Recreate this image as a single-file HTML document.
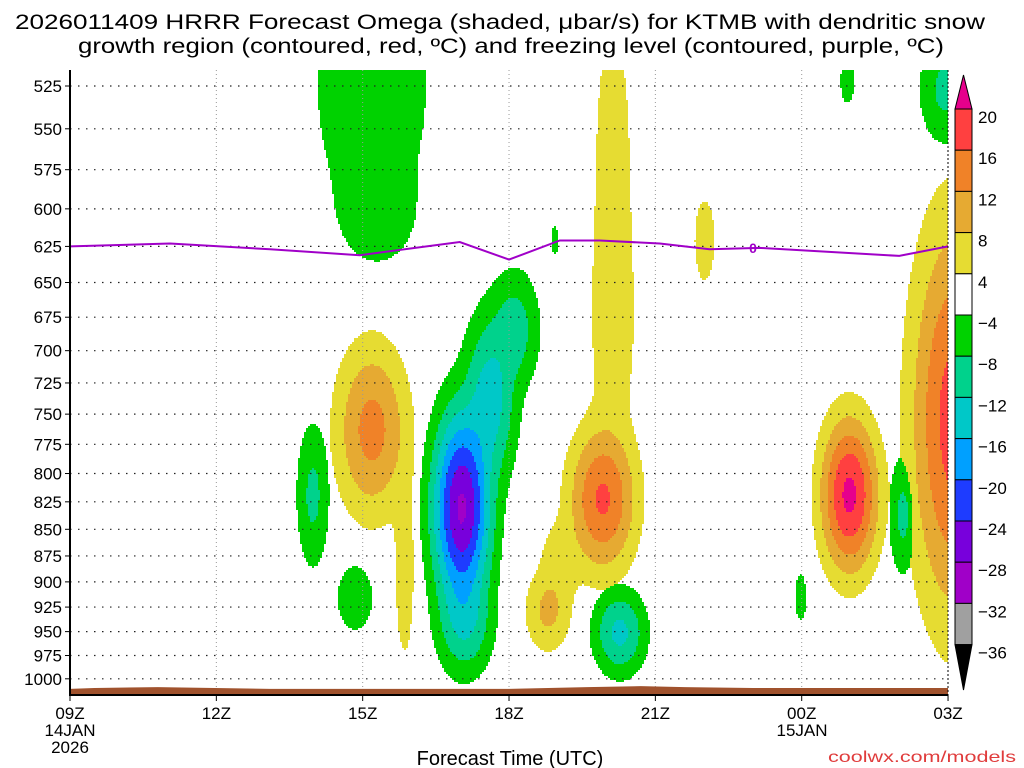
<!DOCTYPE html>
<html><head><meta charset="utf-8"><style>
html,body{margin:0;padding:0;background:#fff;}
svg{display:block;font-family:"Liberation Sans",sans-serif;}
</style></head><body>
<svg id="chart" width="1024" height="768" viewBox="0 0 1024 768" xmlns="http://www.w3.org/2000/svg">
<rect width="1024" height="768" fill="#fff"/>
<text x="500" y="29" text-anchor="middle" font-size="21" textLength="970" lengthAdjust="spacingAndGlyphs">2026011409 HRRR Forecast Omega (shaded, μbar/s) for KTMB with dendritic snow</text>
<text x="511" y="53" text-anchor="middle" font-size="21" textLength="866" lengthAdjust="spacingAndGlyphs">growth region (contoured, red, ºC) and freezing level (contoured, purple, ºC)</text>
<g id="field"></g>
<g id="grid"></g>
<g id="surface"></g>
<g id="frz"></g>
<g id="axes"></g>
<g id="cbar"></g>
<text x="510" y="765" text-anchor="middle" font-size="20">Forecast Time (UTC)</text>
<text x="1016" y="762" text-anchor="end" font-size="16" fill="#e03c3c" textLength="188" lengthAdjust="spacingAndGlyphs">coolwx.com/models</text>
</svg>
<script>
// ---- data ----
const pressureTicks = [525,550,575,600,625,650,675,700,725,750,775,800,825,850,875,900,925,950,975,1000];
const hourTicks = [0,3,6,9,12,15,18];
const hourLabels = ["09Z","12Z","15Z","18Z","21Z","00Z","03Z"];
const cbarLevels = [20,16,12,8,4,-4,-8,-12,-16,-20,-24,-28,-32,-36];
const cbarColors = ["#ff4040","#f08228","#e6aa32","#e6dc32","#ffffff","#00d200","#00d28c","#00c8c8","#00a0ff","#1e3cff","#7800dc","#a000c8","#a0a0a0"];
// omega features (hours since 09Z, pressure hPa, peak µbar/s, spread hours, spread ln-p)
const blobHour = [6.19,6.31,11.13,11.13,10.92,8.03,8.61,9.12,8.09,6.19,6.86,4.98,5.84,9.80,10.04,11.27,13.01,9.94,15.94,17.93,18.14,15.98,17.07,14.98];
const blobPres = [527,604,569,684,823,831,738,684,938,763,889,819,916,929,879,951,621,621,522,527,755,819,837,915];
const blobAmp  = [-6.5,-5.8,6,6,16.6,-28.6,-14,-10,-12,13.5,6,-9,-6.5,9,6,-13,5.5,-5,-5.5,-9,18,21,-9,-5.5];
const blobSh   = [1.58,0.93,0.51,0.61,0.72,0.61,0.57,0.55,0.61,0.78,0.28,0.37,0.51,0.51,0.51,0.57,0.35,0.14,0.25,0.57,0.92,0.61,0.31,0.2];
const blobSl   = [0.188,0.065,0.217,0.163,0.082,0.109,0.098,0.07,0.065,0.098,0.136,0.087,0.049,0.049,0.054,0.049,0.076,0.033,0.043,0.065,0.217,0.087,0.071,0.043];
// freezing level (0C) pressure
const frzHour = [0,2.05,4.1,5.94,7.99,9.0,10.04,10.86,12.09,13.11,14.14,17.0,18];
const frzPres = [625,623,627,631,622,634,621,621,623,627,626,631.5,625];
// surface pressure
const sfcHour = [0,0.5,1.8,4.1,5.5,9.0,10.6,11.7,12.6,14.0,18];
const sfcPres = [1011,1010,1009,1011,1011,1011,1009,1008,1009,1010,1010];

// ---- axes ----
const X0=70,X1=948,Y0=70,Y1=695;
const xS=h=>X0+48.78*h;
const yS=p=>86+920*Math.log(p/525);
const hFromX=x=>(x-X0)/48.78;
const lpFromY=y=>Math.log(525)+(y-86)/920;
const NS="http://www.w3.org/2000/svg";
function mk(tag,attrs,parent){const e=document.createElementNS(NS,tag);for(const k in attrs)e.setAttribute(k,attrs[k]);parent.appendChild(e);return e;}

// ---- field ----
function val(h,lp){let pos=0,neg=0;for(let i=0;i<blobAmp.length;i++){const dh=(h-blobHour[i])/blobSh[i];const dl=(lp-Math.log(blobPres[i]))/blobSl[i];const v=blobAmp[i]*Math.exp(-(dh*dh+dl*dl));if(v>0)pos+=v*v;else neg+=v*v;}pos=Math.sqrt(pos);neg=Math.sqrt(neg);return pos>=neg?pos:-neg;}
function colorOf(v){
  if(v>=20)return "#e6008c";
  for(let i=0;i<cbarLevels.length-1;i++){if(v<cbarLevels[i]&&v>=cbarLevels[i+1])return i===4?null:cbarColors[i];}
  if(v<-36)return "#000";
  return null;
}
const field=document.getElementById('field');
const C=2;
for(let y=Y0;y<Y1;y+=C){
  const lp=lpFromY(y+C/2);let runStart=X0,runCol=undefined;
  for(let x=X0;x<=X1;x+=C){
    const col=x<X1?colorOf(val(hFromX(x+C/2),lp)):'END';
    if(col!==runCol){
      if(runCol){ if(runCol!=='END'){const r=mk('rect',{x:runStart,y:y,width:x-runStart,height:C,fill:runCol},field);
        
        }}
      runStart=x;runCol=col;
    }
  }
}
// ---- grid ----
const grid=document.getElementById('grid');
pressureTicks.forEach(p=>{const l=mk('line',{x1:X0,x2:X1,y1:yS(p),y2:yS(p),stroke:'#222','stroke-width':1.2,'stroke-dasharray':'1.5,6.5'},grid);
  
  });
hourTicks.slice(1,-1).forEach(h=>{const l=mk('line',{x1:xS(h),x2:xS(h),y1:Y0,y2:Y1,stroke:'#999','stroke-width':1,'stroke-dasharray':'1,3'},grid);
  
  });
// ---- surface ----
const sfc=document.getElementById('surface');
let d='M'+X0+','+Y1;sfcHour.forEach((h,i)=>{d+=' L'+xS(h)+','+yS(sfcPres[i]).toFixed(1);});d+=' L'+X1+','+Y1+' Z';
const sp=mk('path',{d:d,fill:'#a0522d'},sfc);


// ---- freezing level ----
const frz=document.getElementById('frz');
const fp=mk('polyline',{points:frzHour.map((h,i)=>xS(h)+','+yS(frzPres[i]).toFixed(1)).join(' '),fill:'none',stroke:'#a000c8','stroke-width':2},frz);


const fl=mk('text',{x:753,y:yS(626)+5,'text-anchor':'middle','font-size':14,fill:'#a000c8','font-weight':'bold'},frz);fl.textContent='0';


// ---- axes ----
const ax=document.getElementById('axes');
mk('line',{x1:X0,x2:X0,y1:Y0,y2:Y1+1,stroke:'#000','stroke-width':2},ax);
mk('line',{x1:X0,x2:X1,y1:Y1,y2:Y1,stroke:'#000','stroke-width':2},ax);
mk('line',{x1:X1,x2:X1,y1:Y0,y2:Y1,stroke:'#000','stroke-width':1,'stroke-dasharray':'2,2'},ax);
pressureTicks.forEach(p=>{mk('line',{x1:X0-5,x2:X0,y1:yS(p),y2:yS(p),stroke:'#000'},ax);
  const t=mk('text',{x:X0-8,y:yS(p)+6,'text-anchor':'end','font-size':17},ax);t.textContent=p;
  
  });
hourTicks.forEach((h,i)=>{mk('line',{x1:xS(h),x2:xS(h),y1:Y1,y2:Y1+6,stroke:'#000'},ax);
  const t=mk('text',{x:xS(h),y:719,'text-anchor':'middle','font-size':17},ax);t.textContent=hourLabels[i];
  
  });
[['14JAN',70,736],['2026',70,753],['15JAN',802,736]].forEach(a=>{const t=mk('text',{x:a[1],y:a[2],'text-anchor':'middle','font-size':17},ax);t.textContent=a[0];
  
  });
// ---- colorbar ----
const cb=document.getElementById('cbar');
const CX=955,CW=17,CT=109,CH=41.2;
mk('path',{d:`M${CX},${CT} L${CX+CW/2},75 L${CX+CW},${CT} Z`,fill:'#e6008c',stroke:'#000'},cb);
cbarColors.forEach((c,i)=>{const r=mk('rect',{x:CX,y:CT+i*CH,width:CW,height:CH,fill:c,stroke:'#000'},cb);
  
  });
const CB=CT+cbarColors.length*CH;
mk('path',{d:`M${CX},${CB} L${CX+CW/2},690 L${CX+CW},${CB} Z`,fill:'#000',stroke:'#000'},cb);
cbarLevels.forEach((v,i)=>{const t=mk('text',{x:CX+CW+6,y:CT+i*CH+14,'font-size':17},cb);t.textContent=v<0?'\u2212'+(-v):v;
  
  });
</script>
</body></html>
